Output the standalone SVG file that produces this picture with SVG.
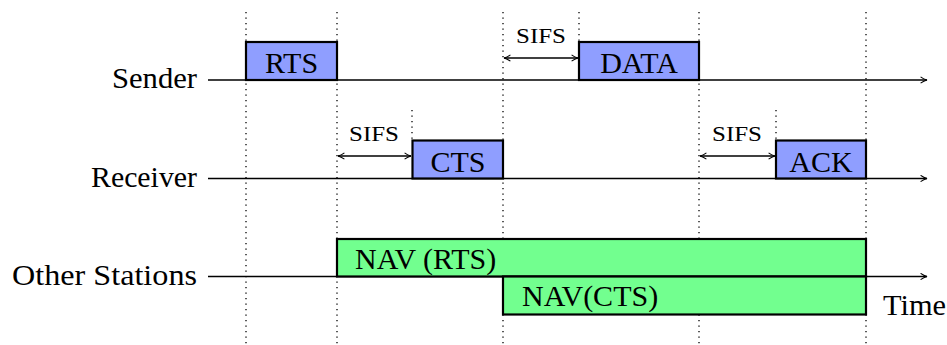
<svg xmlns="http://www.w3.org/2000/svg" width="947" height="345" viewBox="0 0 947 345">
<defs>
<marker id="arr" viewBox="0 0 10 10" refX="9" refY="5" markerWidth="8" markerHeight="8" markerUnits="userSpaceOnUse" orient="auto-start-reverse">
<path d="M1,1 Q5,4 9,5 Q5,6 1,9" fill="none" stroke="#000" stroke-width="1.3"/>
</marker>
</defs>
<style>
.lbl{font-size:30px;text-anchor:end}
.box{font-size:30px;text-anchor:middle}
.nav{font-size:30px}
.sifs{font-size:22px;text-anchor:middle}
.pkt{fill:#8f9eff;stroke:#000;stroke-width:2.2}
.navb{fill:#72ff8f;stroke:#000;stroke-width:2.2}
.dot{stroke:#000;stroke-width:1.3;stroke-dasharray:1.3 4.2;fill:none}
.axis{stroke:#000;stroke-width:1.3;fill:none}
.sarr{stroke:#000;stroke-width:1.3;fill:none}
</style>
<rect width="947" height="345" fill="#fff"/>
<g id="guides">
<line class="dot" x1="246" y1="12" x2="246" y2="345"/>
<line class="dot" x1="337" y1="12" x2="337" y2="345"/>
<line class="dot" x1="503" y1="12" x2="503" y2="345"/>
<line class="dot" x1="699" y1="12" x2="699" y2="345"/>
<line class="dot" x1="866" y1="12" x2="866" y2="345"/>
<line class="dot" x1="579" y1="12" x2="579" y2="42"/>
<line class="dot" x1="412" y1="110" x2="412" y2="140"/>
<line class="dot" x1="776" y1="110" x2="776" y2="140"/>
</g>
<g id="connectors">
<line class="axis" x1="208" y1="80" x2="927" y2="80" marker-end="url(#arr)"/>
<line class="axis" x1="208" y1="178.5" x2="927" y2="178.5" marker-end="url(#arr)"/>
<line class="axis" x1="208" y1="276.5" x2="927" y2="276.5" marker-end="url(#arr)"/>
<line class="sarr" x1="504" y1="58" x2="578" y2="58" marker-start="url(#arr)" marker-end="url(#arr)"/>
<line class="sarr" x1="338" y1="156" x2="411" y2="156" marker-start="url(#arr)" marker-end="url(#arr)"/>
<line class="sarr" x1="700" y1="156" x2="775" y2="156" marker-start="url(#arr)" marker-end="url(#arr)"/>
</g>
<g font-family="'Liberation Serif', 'Times New Roman', serif" fill="#000">
<g id="labels">
<text class="lbl" x="197" y="88" textLength="85" lengthAdjust="spacingAndGlyphs">Sender</text>
<text class="lbl" x="197" y="186.5" textLength="106" lengthAdjust="spacingAndGlyphs">Receiver</text>
<text class="lbl" x="197" y="285" textLength="185" lengthAdjust="spacingAndGlyphs">Other Stations</text>
<text x="883" y="315" font-size="30" textLength="63" lengthAdjust="spacingAndGlyphs">Time</text>
<text class="sifs" x="541" y="43" textLength="50" lengthAdjust="spacingAndGlyphs">SIFS</text>
<text class="sifs" x="374" y="141" textLength="50" lengthAdjust="spacingAndGlyphs">SIFS</text>
<text class="sifs" x="737" y="141" textLength="50" lengthAdjust="spacingAndGlyphs">SIFS</text>
</g>
<g id="nav-rts">
<rect class="navb" x="337" y="239" width="529" height="37.5"/>
<text class="nav" x="355" y="269">NAV (RTS)</text>
</g>
<g id="nav-cts">
<rect class="navb" x="503" y="276.5" width="363" height="38"/>
<text class="nav" x="522" y="306">NAV(CTS)</text>
</g>
<g id="rts">
<rect class="pkt" x="246" y="42" width="91" height="38"/>
<text class="box" x="291.5" y="73">RTS</text>
</g>
<g id="data">
<rect class="pkt" x="579" y="42" width="120" height="38"/>
<text class="box" x="639" y="73">DATA</text>
</g>
<g id="cts">
<rect class="pkt" x="412.5" y="140.5" width="90.5" height="38"/>
<text class="box" x="458" y="172">CTS</text>
</g>
<g id="ack">
<rect class="pkt" x="776" y="140.5" width="90" height="38"/>
<text class="box" x="821" y="172">ACK</text>
</g>
</g>
</svg>
